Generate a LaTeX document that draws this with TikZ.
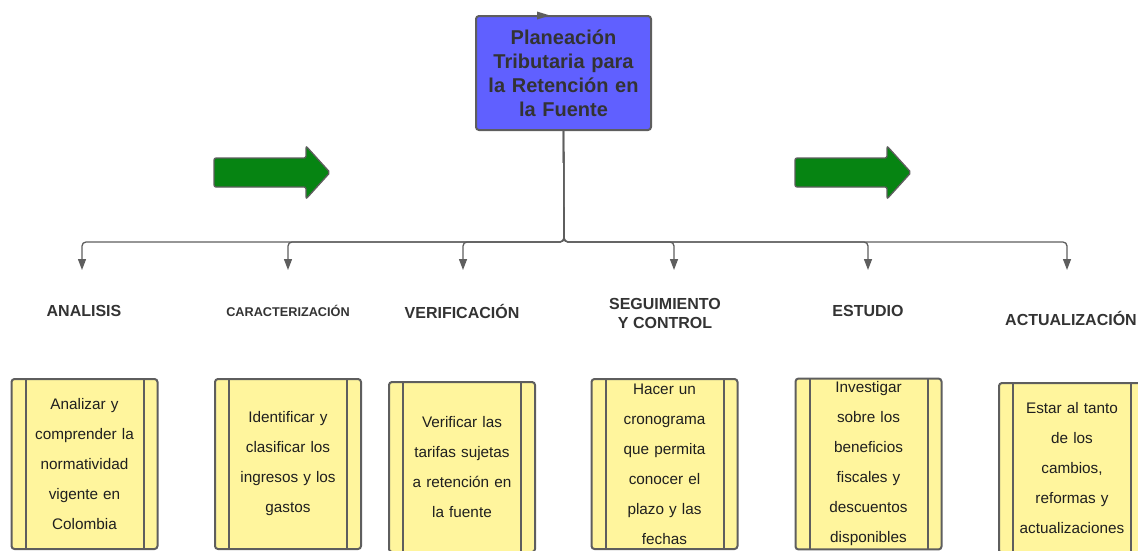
\documentclass[tikz,border=0pt]{standalone}
\usepackage{fontspec}
\setmainfont{Liberation Sans}
\usetikzlibrary{arrows.meta}
\definecolor{azul}{RGB}{96,96,255}
\definecolor{amarillo}{RGB}{255,245,157}
\definecolor{verde}{RGB}{6,132,18}
\definecolor{borde}{RGB}{94,94,94}
\definecolor{letra}{RGB}{51,51,51}
\tikzset{>={Triangle[width=8pt,length=11pt]},
  raiz/.style={draw=borde, line width=2pt, fill=azul, rounded corners=3pt, minimum width=175pt, minimum height=114pt, text width=168pt, align=center, text=letra, font=\fontsize{20}{24}\selectfont\bfseries},
  titulo/.style={align=center, text=letra, font=\fontsize{16}{19}\selectfont\bfseries},
  tarjeta/.style={draw=borde, line width=2pt, fill=amarillo, rounded corners=3pt, minimum width=146pt, minimum height=170pt, text width=120pt, align=center, text=black!88, font=\fontsize{15.3}{30}\selectfont,
    path picture={\draw[borde, line width=2pt] ([xshift=14pt]path picture bounding box.north west) -- ([xshift=14pt]path picture bounding box.south west) ([xshift=-14pt]path picture bounding box.north east) -- ([xshift=-14pt]path picture bounding box.south east);}},
  enlace/.style={draw=borde, line width=1.3pt, rounded corners=4pt, ->}}

\begin{document}
\begin{tikzpicture}[x=1pt, y=-1pt]
    \clip (0,0) rectangle (1138,550);
    \node[raiz] (plan) at (563.5,73) {Planeación\\Tributaria para\\la Retención en\\la Fuente};
    \fill[borde] (537,11.5) -- (550,15.5) -- (537,19.5) -- cycle;

    \foreach \dx in {0,581}
        \filldraw[fill=verde, draw=borde, line width=1.3pt, rounded corners=2pt, xshift=\dx] (214,158) -- (306,158) -- (306,146) -- (330,172.5) -- (306,199) -- (306,187) -- (214,187) -- cycle;

    \coordinate (bus) at (564,242);
    \coordinate (d1) at (82,270);
    \coordinate (d2) at (288,270);
    \coordinate (d3) at (463,270);
    \coordinate (d4) at (674,270);
    \coordinate (d5) at (868,270);
    \coordinate (d6) at (1067,270);
    \foreach \destino in {d1,d2,d3,d4,d5,d6}
        \draw[enlace] (plan.south) -- (bus) -| (\destino);

    \node[titulo] (analisis) at (84,311) {ANALISIS};
    \node[titulo, font=\fontsize{12.7}{15}\selectfont\bfseries] (caracter) at (288,311) {CARACTERIZACIÓN};
    \node[titulo] (verifica) at (462,311) {VERIFICACIÓN};
    \node[titulo] (seguim) at (665,313.5) {SEGUIMIENTO\\Y CONTROL};
    \node[titulo] (estudio) at (868,311) {ESTUDIO};
    \node[titulo] (actual) at (1071,318) {ACTUALIZACIÓN};

    \node[tarjeta] (c1) at (84.5,464) {Analizar y\\comprender la\\normatividad\\vigente en\\Colombia};
    \node[tarjeta] (c2) at (288,464) {Identificar y\\clasificar los\\ingresos y los\\gastos};
    \node[tarjeta] (c3) at (462,467) {Verificar las\\tarifas sujetas\\a retención en\\la fuente};
    \node[tarjeta] (c4) at (664.5,464) {Hacer un\\cronograma\\que permita\\conocer el\\plazo y las\\fechas};
    \node[tarjeta] (c5) at (868.5,464) {Investigar\\sobre los\\beneficios\\fiscales y\\descuentos\\disponibles};
    \node[tarjeta] (c6) at (1072,468) {Estar al tanto\\de los\\cambios,\\reformas y\\actualizaciones};
\end{tikzpicture}
\end{document}
